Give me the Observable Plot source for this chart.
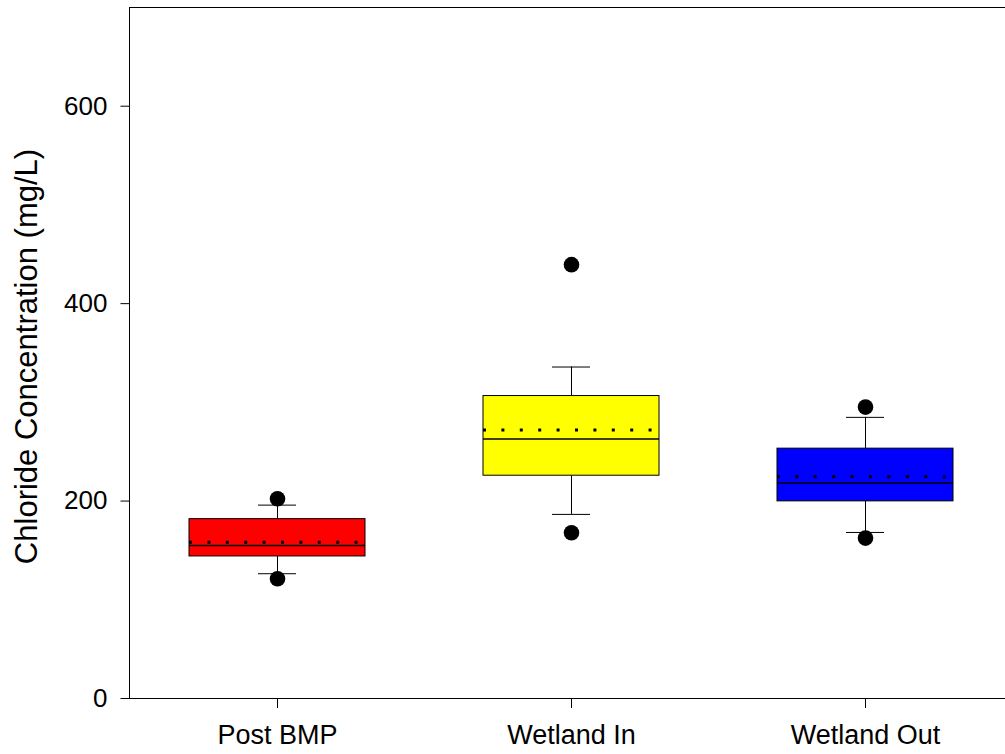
<!DOCTYPE html>
<html>
<head>
<meta charset="utf-8">
<script src="https://cdn.jsdelivr.net/npm/d3@7"></script>
<script src="https://cdn.jsdelivr.net/npm/@observablehq/plot@0.6"></script>
<style>
  html, body { margin: 0; padding: 0; background: #fff; overflow: hidden; }
  svg { max-width: none !important; }
</style>
</head>
<body>
<div id="chart"></div>
<script>
const categories = ["Post BMP", "Wetland In", "Wetland Out"];
const q1 = [143.9, 225.7, 199.7];
const q3 = [181.7, 306.4, 253.1];
const medians = [155.1, 262.8, 218.2];
const means = [158.4, 271.9, 224.7];
const whiskerLow = [126.4, 186.5, 168.2];
const whiskerHigh = [195.9, 335.8, 284.8];
const outlierCategory = ["Post BMP", "Post BMP", "Wetland In", "Wetland In", "Wetland Out", "Wetland Out"];
const outlierValue = [202.4, 121.3, 439.5, 167.9, 295.2, 162.5];
const boxColors = ["#ff0000", "#ffff00", "#0000ff"];
const yTicks = [0, 200, 400, 600];
const yLabel = "Chloride Concentration (mg/L)";

const boxes = categories.map((c, i) => ({
  cat: c, q1: q1[i], q3: q3[i], median: medians[i], mean: means[i],
  lo: whiskerLow[i], hi: whiskerHigh[i], color: boxColors[i]
}));
const outliers = outlierCategory.map((c, i) => ({cat: c, v: outlierValue[i]}));

const chart = Plot.plot({
  width: 1013,
  height: 754,
  marginLeft: 129,
  marginRight: 0,
  marginTop: 7,
  marginBottom: 56,
  style: {fontFamily: "'Liberation Sans', Arial, sans-serif", fontSize: "26px", color: "#000", background: "#fff"},
  x: {domain: categories, paddingInner: 0.4, paddingOuter: 0.2, label: null},
  y: {domain: [0, 700], label: null},
  marks: [
    Plot.ruleX(boxes, {x: "cat", y1: "lo", y2: "q1", stroke: "#000", strokeWidth: 1}),
    Plot.ruleX(boxes, {x: "cat", y1: "q3", y2: "hi", stroke: "#000", strokeWidth: 1}),
    Plot.tickY(boxes, {x: "cat", y: "lo", stroke: "#000", strokeWidth: 1, insetLeft: 69, insetRight: 69}),
    Plot.tickY(boxes, {x: "cat", y: "hi", stroke: "#000", strokeWidth: 1, insetLeft: 69, insetRight: 69}),
    Plot.barY(boxes, {x: "cat", y1: "q1", y2: "q3", fill: "color", stroke: "#000", strokeWidth: 1}),
    Plot.tickY(boxes, {x: "cat", y: "median", stroke: "#000", strokeWidth: 1.5}),
    Plot.tickY(boxes, {x: "cat", y: "mean", stroke: "#000", strokeWidth: 3, strokeDasharray: "3 15.4"}),
    Plot.dot(outliers, {x: "cat", y: "v", r: 7.8, fill: "#000", stroke: null}),
    Plot.axisY({ticks: yTicks, tickSize: 8.5, tickPadding: 13.5, label: null, stroke: "#000", fontSize: 26}),
    Plot.axisX({tickSize: 10, tickPadding: 16.5, label: null, stroke: "#000", fontSize: 27}),
    Plot.text([yLabel], {text: d => d, frameAnchor: "left", rotate: -90, dx: -102, dy: 3.5, lineAnchor: "middle", textAnchor: "middle", fontSize: 31, fill: "#000"}),
    Plot.frame({stroke: "#000", strokeWidth: 1})
  ]
});
document.getElementById("chart").appendChild(chart);
</script>
</body>
</html>
